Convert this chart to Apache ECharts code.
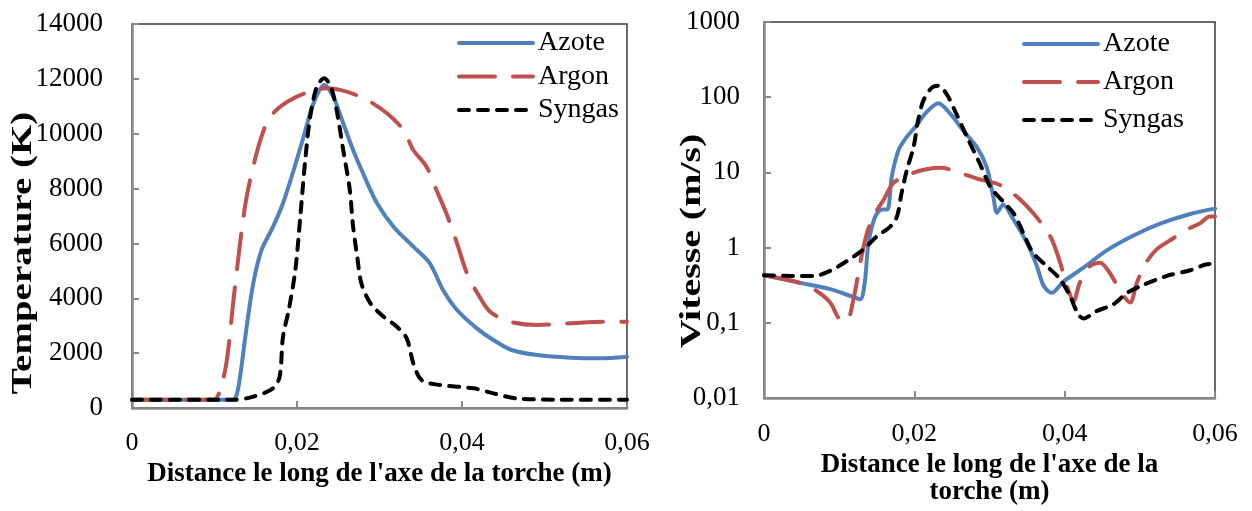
<!DOCTYPE html>
<html>
<head>
<meta charset="utf-8">
<script src="https://cdn.jsdelivr.net/npm/echarts@6/dist/echarts.min.js"></script>
<style>html,body{margin:0;padding:0;background:#fff}#c{width:1252px;height:511px}</style>
</head>
<body>
<div id="c"></div>
<script>
// ---- Data ----
const seriesNames = ['Azote', 'Argon', 'Syngas'];
const xTicks = [0, 0.02, 0.04, 0.06];
const tempTicks = [0, 2000, 4000, 6000, 8000, 10000, 12000, 14000];
const vitTicks = [0.01, 0.1, 1, 10, 100, 1000];

// Temperature (K) vs distance (m)
const tempAzoteX = [0, 0.0122, 0.0127, 0.0131, 0.0139, 0.0147, 0.0157, 0.0171, 0.0183, 0.0196, 0.0208, 0.0220, 0.0233, 0.0244, 0.0256, 0.0268, 0.0280, 0.0297, 0.0317, 0.0341, 0.0361, 0.0377, 0.0394, 0.0418, 0.0438, 0.0460, 0.0491, 0.0531, 0.0567, 0.0600];
const tempAzoteY = [300, 300, 500, 1141, 2964, 4546, 5760, 6610, 7463, 8677, 9891, 11109, 11776, 11350, 10380, 9406, 8557, 7463, 6610, 5881, 5275, 4302, 3573, 2904, 2479, 2115, 1932, 1834, 1810, 1870];
const tempArgonX = [0, 0.0099, 0.0107, 0.0115, 0.0123, 0.0131, 0.0139, 0.0151, 0.0163, 0.0175, 0.0192, 0.0212, 0.0236, 0.0260, 0.0285, 0.0309, 0.0329, 0.0341, 0.0357, 0.0369, 0.0381, 0.0394, 0.0406, 0.0420, 0.0434, 0.0458, 0.0491, 0.0531, 0.0571, 0.0600];
const tempArgonY = [300, 300, 656, 1750, 3938, 6004, 7705, 9285, 10380, 10865, 11229, 11496, 11656, 11532, 11229, 10744, 10136, 9406, 8799, 7948, 7099, 6004, 4911, 4120, 3511, 3146, 3026, 3087, 3146, 3146];
const tempSyngasX = [0, 0.0123, 0.0147, 0.0171, 0.0179, 0.0183, 0.0190, 0.0198, 0.0204, 0.0210, 0.0216, 0.0224, 0.0233, 0.0241, 0.0248, 0.0256, 0.0264, 0.0268, 0.0273, 0.0278, 0.0289, 0.0305, 0.0321, 0.0333, 0.0341, 0.0351, 0.0373, 0.0414, 0.0438, 0.0466, 0.0520, 0.0600];
const tempSyngasY = [300, 300, 413, 717, 1141, 2600, 3573, 5031, 6975, 9042, 10621, 11715, 12019, 11715, 10865, 9406, 7948, 6610, 5517, 4546, 3817, 3329, 2964, 2540, 1629, 1021, 839, 717, 535, 353, 300, 300];

// Vitesse (m/s) vs distance (m)
const vitAzoteX = [0, 0.0048, 0.0088, 0.0119, 0.0128, 0.0134, 0.0139, 0.0148, 0.0157, 0.0164, 0.0170, 0.0179, 0.0190, 0.0203, 0.0216, 0.0232, 0.0248, 0.0265, 0.0283, 0.0296, 0.0305, 0.0310, 0.0318, 0.0332, 0.0350, 0.0363, 0.0372, 0.0383, 0.0398, 0.0425, 0.0456, 0.0491, 0.0527, 0.0567, 0.0600];
const vitAzoteY = [0.43, 0.34, 0.28, 0.22, 0.205, 0.34, 1.15, 2.6, 3.2, 3.2, 8.8, 19.8, 29.7, 42, 63, 83, 60, 36, 21.8, 11.9, 4.8, 2.9, 3.7, 2.35, 1.15, 0.57, 0.31, 0.25, 0.35, 0.54, 0.92, 1.44, 2.08, 2.8, 3.3];
const vitArgonX = [0, 0.0048, 0.0070, 0.0088, 0.0101, 0.0110, 0.0119, 0.0128, 0.0137, 0.0148, 0.0159, 0.0172, 0.0194, 0.0216, 0.0236, 0.0256, 0.0283, 0.0314, 0.0336, 0.0354, 0.0369, 0.0383, 0.0394, 0.0403, 0.0412, 0.0420, 0.0434, 0.0447, 0.0460, 0.0474, 0.0487, 0.0496, 0.0507, 0.0522, 0.0545, 0.0562, 0.0580, 0.0593, 0.0600];
const vitArgonY = [0.43, 0.34, 0.265, 0.186, 0.11, 0.106, 0.205, 0.63, 1.56, 2.87, 4.3, 7.2, 9.5, 11, 11.5, 10.2, 8.3, 6.8, 4.8, 3.2, 2.1, 1.28, 0.63, 0.31, 0.195, 0.34, 0.57, 0.63, 0.46, 0.265, 0.186, 0.34, 0.6, 0.94, 1.34, 1.73, 2.1, 2.6, 2.6];
const vitSyngasX = [0, 0.0039, 0.0066, 0.0088, 0.0110, 0.0132, 0.0150, 0.0168, 0.0177, 0.0183, 0.0190, 0.0199, 0.0205, 0.0212, 0.0223, 0.0232, 0.0243, 0.0254, 0.0270, 0.0287, 0.0301, 0.0318, 0.0332, 0.0345, 0.0358, 0.0376, 0.0394, 0.0407, 0.0418, 0.0425, 0.0443, 0.0465, 0.0483, 0.0505, 0.0536, 0.0567, 0.0589, 0.0600];
const vitSyngasY = [0.43, 0.42, 0.42, 0.49, 0.66, 0.94, 1.41, 1.9, 2.6, 5.3, 10.7, 21.8, 49, 90, 133, 142, 110, 66, 29.7, 13.2, 6.45, 4.1, 2.87, 1.56, 0.85, 0.57, 0.38, 0.227, 0.13, 0.114, 0.144, 0.176, 0.25, 0.32, 0.42, 0.5, 0.6, 0.61];

// ---- Build ----
const zip = (xs, ys) => xs.map((x, i) => [x, ys[i]]);
const colors = ['#4F81BD', '#C0504D', '#000000'];
const dashes = ['solid', [36, 18], [10, 9]];
const FONT = '"Liberation Serif", "Times New Roman", serif';
const fmtNum = v => String(Number(Number(v).toPrecision(6))).replace('.', ',');

const chart = echarts.init(document.getElementById('c'), null, {renderer: 'canvas'});

function mkSeries(name, idx, data, axisIdx) {
  return {
    name: name, type: 'line', data: data,
    xAxisIndex: axisIdx, yAxisIndex: axisIdx,
    showSymbol: false, symbol: 'none', smooth: 0.3,
    lineStyle: {color: colors[idx], width: 4, type: dashes[idx], cap: 'round', join: 'round'},
    itemStyle: {color: colors[idx]},
    z: 2 + idx, animation: false
  };
}

const axisLine = {show: true, lineStyle: {color: '#898989', width: 2.5}};
const axisTick = {show: true, inside: true, length: 7, lineStyle: {color: '#898989', width: 2}};

const xAxisBase = (gi, margin, name, gap) => ({
  type: 'value', gridIndex: gi, min: xTicks[0], max: xTicks[xTicks.length - 1],
  interval: xTicks[1] - xTicks[0],
  axisLine: axisLine, axisTick: axisTick, splitLine: {show: false},
  axisLabel: {fontFamily: FONT, fontSize: 26, color: '#000', margin: margin, formatter: fmtNum},
  name: name, nameLocation: 'middle', nameGap: gap,
  nameTextStyle: {fontFamily: FONT, fontSize: 27, fontWeight: 'bold', color: '#000', lineHeight: 27}
});

const legendBase = (left, top, gap) => ({
  data: seriesNames, orient: 'vertical', left: left, top: top, padding: 0,
  itemWidth: 74, itemHeight: 20, itemGap: gap,
  itemStyle: {opacity: 0},
  lineStyle: {width: 4, cap: 'round'},
  textStyle: {fontFamily: FONT, fontSize: 28, color: '#000'},
  selectedMode: false
});

const option = {
  backgroundColor: '#fff',
  animation: false,
  grid: [
    {left: 132, top: 24, width: 495, height: 384, show: true, borderColor: '#3a3a3a', borderWidth: 1.5, backgroundColor: 'transparent'},
    {left: 764, top: 22, width: 451, height: 376, show: true, borderColor: '#3a3a3a', borderWidth: 1.5, backgroundColor: 'transparent'}
  ],
  legend: [legendBase(457, 29, 5.5), legendBase(1022, 30, 10)],
  xAxis: [
    xAxisBase(0, 22, "Distance le long de l'axe de la torche (m)", 41),
    xAxisBase(1, 23, "Distance le long de l'axe de la\ntorche (m)", 52)
  ],
  yAxis: [
    {type: 'value', gridIndex: 0, min: tempTicks[0], max: tempTicks[tempTicks.length - 1],
     interval: tempTicks[1] - tempTicks[0],
     axisLine: axisLine, axisTick: axisTick, splitLine: {show: false},
     axisLabel: {fontFamily: FONT, fontSize: 27, color: '#000', margin: 29, formatter: v => String(v)}},
    {type: 'log', logBase: 10, gridIndex: 1, min: vitTicks[0], max: vitTicks[vitTicks.length - 1],
     axisLine: axisLine, axisTick: axisTick, splitLine: {show: false}, minorTick: {show: false},
     axisLabel: {fontFamily: FONT, fontSize: 27, color: '#000', margin: 24, formatter: fmtNum}}
  ],
  graphic: [
    {type: 'text', x: 23, y: 253, rotation: Math.PI / 2, scaleX: 1.3,
     style: {text: 'Temperature (K)', font: 'bold 30px ' + FONT, fill: '#000', textAlign: 'center', textVerticalAlign: 'middle'}},
    {type: 'text', x: 692, y: 241, rotation: Math.PI / 2, scaleX: 1.33,
     style: {text: 'Vitesse (m/s)', font: 'bold 30px ' + FONT, fill: '#000', textAlign: 'center', textVerticalAlign: 'middle'}}
  ],
  series: [
    mkSeries('Azote', 0, zip(tempAzoteX, tempAzoteY), 0),
    mkSeries('Argon', 1, zip(tempArgonX, tempArgonY), 0),
    mkSeries('Syngas', 2, zip(tempSyngasX, tempSyngasY), 0),
    mkSeries('Azote', 0, zip(vitAzoteX, vitAzoteY), 1),
    mkSeries('Argon', 1, zip(vitArgonX, vitArgonY), 1),
    mkSeries('Syngas', 2, zip(vitSyngasX, vitSyngasY), 1)
  ]
};
chart.setOption(option);
</script>
</body>
</html>
